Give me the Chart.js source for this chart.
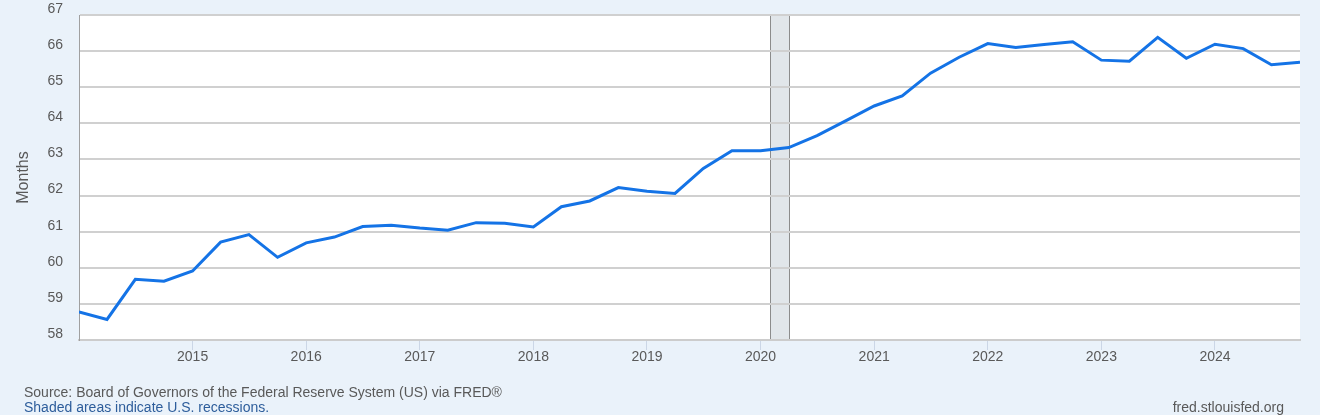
<!DOCTYPE html>
<html>
<head>
<meta charset="utf-8">
<script src="https://cdn.jsdelivr.net/npm/chart.js@4.4.1/dist/chart.umd.min.js"></script>
<style>
  html, body { margin: 0; padding: 0; background: #eaf2fa; }
  #wrap { position: relative; width: 1320px; height: 415px; overflow: hidden; }
  #chart { position: absolute; left: 0; top: 0; }
  .note { position: absolute; font-family: "Liberation Sans", Arial, sans-serif; font-size: 14px; white-space: nowrap; line-height: 16px; }
  #source { left: 24px; top: 384px; color: #595959; }
  #shaded { left: 24px; top: 399px; color: #2d5d9b; }
  #site { right: 36px; top: 399px; color: #595959; }
</style>
</head>
<body>
<div id="wrap">
  <canvas id="chart" width="1320" height="415"></canvas>
  <div class="note" id="source">Source: Board of Governors of the Federal Reserve System (US) via FRED®</div>
  <div class="note" id="shaded">Shaded areas indicate U.S. recessions.</div>
  <div class="note" id="site">fred.stlouisfed.org</div>
</div>
<script>
// Quarterly observations, 2014-01-01 .. 2024-10-01
const dates = [
  '2014-01-01', '2014-04-01', '2014-07-01', '2014-10-01',
  '2015-01-01', '2015-04-01', '2015-07-01', '2015-10-01',
  '2016-01-01', '2016-04-01', '2016-07-01', '2016-10-01',
  '2017-01-01', '2017-04-01', '2017-07-01', '2017-10-01',
  '2018-01-01', '2018-04-01', '2018-07-01', '2018-10-01',
  '2019-01-01', '2019-04-01', '2019-07-01', '2019-10-01',
  '2020-01-01', '2020-04-01', '2020-07-01', '2020-10-01',
  '2021-01-01', '2021-04-01', '2021-07-01', '2021-10-01',
  '2022-01-01', '2022-04-01', '2022-07-01', '2022-10-01',
  '2023-01-01', '2023-04-01', '2023-07-01', '2023-10-01',
  '2024-01-01', '2024-04-01', '2024-07-01', '2024-10-01'
];
const months = [
  58.78, 58.57, 59.68, 59.63,
  59.91, 60.71, 60.92, 60.29,
  60.69, 60.85, 61.14, 61.18,
  61.10, 61.04, 61.25, 61.23,
  61.13, 61.69, 61.85, 62.22,
  62.12, 62.06, 62.75, 63.24,
  63.24, 63.33, 63.66, 64.07,
  64.48, 64.76, 65.39, 65.83,
  66.21, 66.10, 66.18, 66.26,
  65.75, 65.72, 66.38, 65.80,
  66.19, 66.07, 65.62, 65.69
];
const yearTicks = [2015, 2016, 2017, 2018, 2019, 2020, 2021, 2022, 2023, 2024];
const yTicks = [58, 59, 60, 61, 62, 63, 64, 65, 66, 67];
const recessionStart = '2020-02-01';
const recessionEnd = '2020-04-01';

// date string -> fractional year
function toYear(s) {
  const [y, m, d] = s.split('-').map(Number);
  const start = Date.UTC(y, 0, 1);
  const next = Date.UTC(y + 1, 0, 1);
  return y + (Date.UTC(y, m - 1, d) - start) / (next - start);
}

const points = dates.map((d, i) => ({ x: toYear(d), y: months[i] }));

// white plot background + recession band
const plotBackground = {
  id: 'plotBackground',
  beforeDraw(chart) {
    const { ctx, chartArea: a, scales } = chart;
    ctx.save();
    ctx.fillStyle = '#ffffff';
    ctx.fillRect(a.left, a.top, a.right - a.left, a.bottom - a.top);
    const x0 = Math.round(scales.x.getPixelForValue(toYear(recessionStart))) + 0.5;
    const x1 = Math.round(scales.x.getPixelForValue(toYear(recessionEnd))) + 0.5;
    ctx.fillStyle = '#e1e6ea';
    ctx.fillRect(x0, a.top, x1 - x0, a.bottom - a.top);
    ctx.strokeStyle = '#8c8c8c';
    ctx.lineWidth = 1;
    ctx.beginPath();
    ctx.moveTo(x0, a.top); ctx.lineTo(x0, a.bottom);
    ctx.moveTo(x1, a.top); ctx.lineTo(x1, a.bottom);
    ctx.stroke();
    ctx.restore();
  }
};

Chart.defaults.font.family = "'Liberation Sans', Arial, sans-serif";
Chart.defaults.color = '#595959';

new Chart(document.getElementById('chart'), {
  type: 'line',
  data: {
    datasets: [{
      data: points,
      borderColor: '#1473e6',
      borderWidth: 3,
      pointRadius: 0,
      tension: 0,
      fill: false
    }]
  },
  options: {
    responsive: false,
    animation: false,
    layout: { padding: { left: 0, right: 20, top: 15, bottom: 0 } },
    plugins: { legend: { display: false }, tooltip: { enabled: false } },
    scales: {
      x: {
        type: 'linear',
        min: toYear(dates[0]),
        max: toYear(dates[dates.length - 1]),
        afterBuildTicks: (scale) => { scale.ticks = yearTicks.map(v => ({ value: v })); },
        afterFit: (scale) => { scale.height = 75; scale.paddingLeft = 0; scale.paddingRight = 0; },
        ticks: {
          font: { size: 14 },
          color: '#595959',
          padding: -1,
          maxRotation: 0,
          autoSkip: false,
          callback: (v) => String(v)
        },
        grid: { drawOnChartArea: false, drawTicks: true, tickLength: 10, color: '#cbd6e6', lineWidth: 1 },
        border: { display: true, color: '#cccccc', width: 2 }
      },
      y: {
        min: 58,
        max: 67,
        afterBuildTicks: (scale) => { scale.ticks = yTicks.map(v => ({ value: v })); },
        afterFit: (scale) => { scale.width = 79; scale.paddingTop = 0; scale.paddingBottom = 0; },
        ticks: {
          font: { size: 14 },
          color: '#595959',
          padding: 16,
          labelOffset: -6
        },
        grid: { drawTicks: false, color: '#d0d0d0', lineWidth: 2 },
        border: { display: true, color: '#a0a0a0', width: 1 },
        title: {
          display: true,
          text: 'Months',
          font: { size: 16 },
          color: '#595959',
          padding: { top: 14, bottom: 0 }
        }
      }
    }
  },
  plugins: [plotBackground]
});
</script>
</body>
</html>
